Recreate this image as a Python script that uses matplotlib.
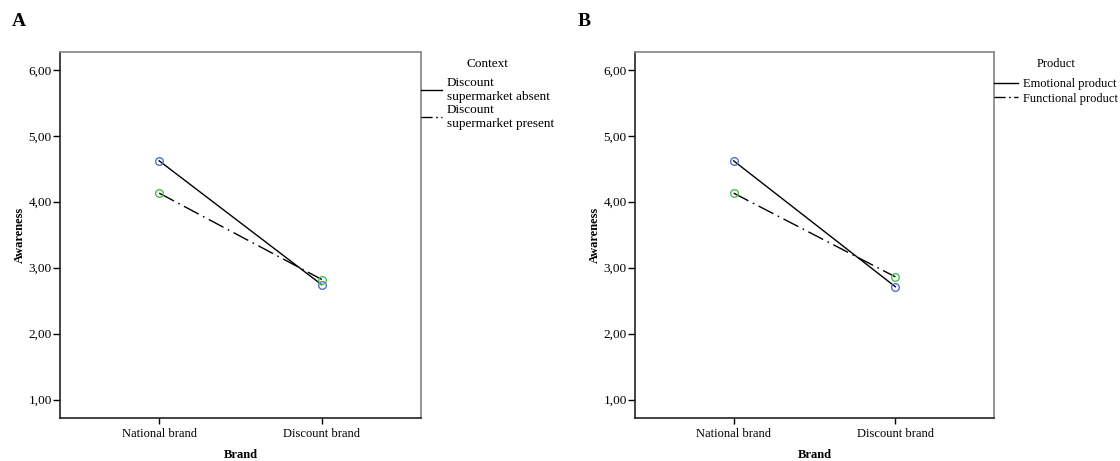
import matplotlib
matplotlib.use("Agg")
import matplotlib.pyplot as plt

plt.rcParams['font.family'] = ['Liberation Serif', 'DejaVu Serif']

brands = ['National brand', 'Discount brand']
yticks = [1, 2, 3, 4, 5, 6]
ytick_labels = ['1,00', '2,00', '3,00', '4,00', '5,00', '6,00']

# panel A: Context
context_title = 'Context'
context_labels = ['Discount\nsupermarket absent', 'Discount\nsupermarket present']
context_absent = [4.62, 2.74]
context_present = [4.13, 2.82]

# panel B: Product
product_title = 'Product'
product_labels = ['Emotional product', 'Functional product']
product_emotional = [4.62, 2.71]
product_functional = [4.13, 2.86]

blue = '#5b6cc9'
green = '#45bf55'
dashdot = (0, (12, 3.5, 1.2, 3.5))
dashdot_short = (0, (8, 2.5, 1.2, 2.5))

W, H = 1120, 461
fig = plt.figure(figsize=(W / 100, H / 100), dpi=100)


def panel(left, right, letter, lx, s1, s2, labels, title, title_x,
          leg_fs, spacing, leg_y, hlen):
    ax = fig.add_axes([left / W, (H - 418) / H, (right - left) / W, 366 / H])
    x = range(len(brands))
    l1, = ax.plot(x, s1, color='black', lw=1.0, marker='o', ms=5.5,
                  mfc='none', mec=blue, mew=1.0)
    l2, = ax.plot(x, s2, color='black', lw=1.0, ls=dashdot, marker='o', ms=5.5,
                  mfc='none', mec=green, mew=1.0)
    ax.set_xlim(-0.61, 1.61)
    ax.set_ylim(0.72, 6.27)
    ax.set_xticks(list(x))
    ax.set_xticklabels(brands, fontsize=9)
    ax.set_yticks(yticks)
    ax.set_yticklabels(ytick_labels, fontsize=9.5)
    ax.tick_params(axis='y', length=5, width=1, pad=1, direction='out')
    ax.tick_params(axis='x', length=4.5, width=1, pad=2.5, direction='out')
    for side in ['top', 'right']:
        ax.spines[side].set_color('#8c8c8c')
        ax.spines[side].set_linewidth(1.3)
    for side in ['left', 'bottom']:
        ax.spines[side].set_color('#222222')
        ax.spines[side].set_linewidth(1.2)
    ax.set_xlabel('Brand', fontsize=9, fontweight='bold')
    ax.set_ylabel('Awareness', fontsize=9, fontweight='bold')
    ax.xaxis.set_label_coords(0.5, -0.086)
    ax.yaxis.set_label_coords(-0.094, 0.5)
    leg = ax.legend([l1, l2], labels, loc='center left',
                    bbox_to_anchor=(1.0, leg_y), frameon=False, fontsize=leg_fs,
                    borderpad=0, borderaxespad=0,
                    handlelength=hlen, handletextpad=0.35, labelspacing=spacing)
    for h in leg.legend_handles:
        h.set_marker('')
    leg.legend_handles[1].set_linestyle(dashdot_short)
    fig.text(title_x / W, 1 - 64 / H, title, fontsize=leg_fs,
             ha='center', va='center')
    fig.text(lx / W, 1 - 21 / H, letter, fontsize=14, fontweight='bold',
             ha='left', va='center')
    return ax


panel(60, 421, 'A', 12, context_absent, context_present, context_labels,
      context_title, 487, 9.5, 0.08, 0.859, 1.6)
panel(635, 994, 'B', 578, product_emotional, product_functional, product_labels,
      product_title, 1056, 9, 0.18, 0.892, 1.95)

fig.savefig('out.png', dpi=100)
